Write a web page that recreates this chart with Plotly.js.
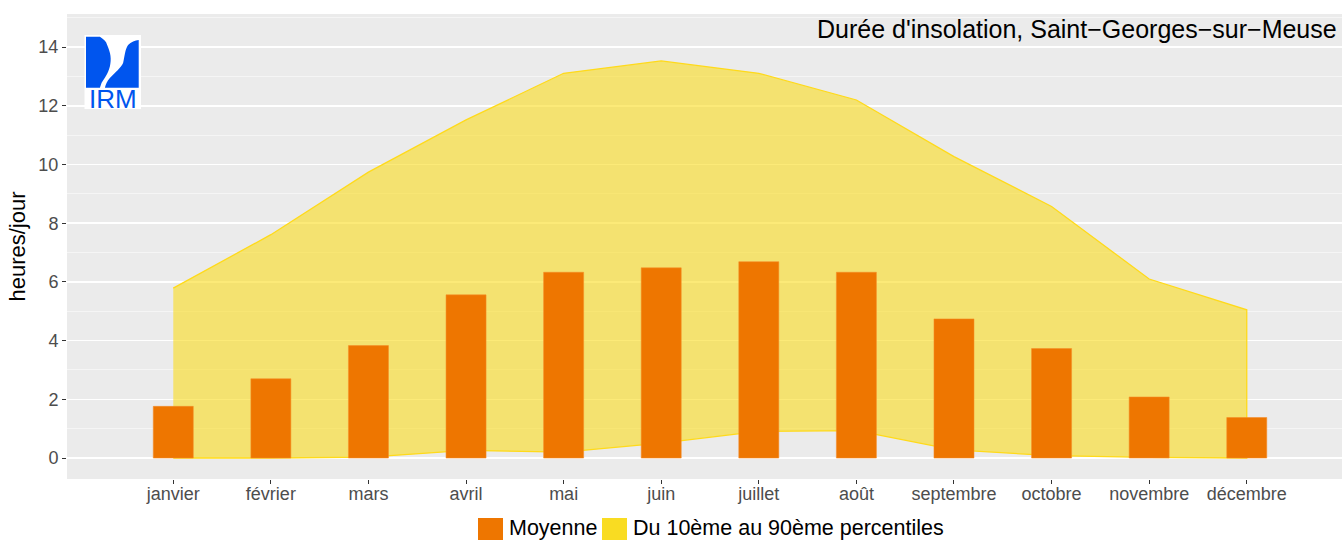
<!DOCTYPE html>
<html>
<head>
<meta charset="utf-8">
<script src="https://cdn.plot.ly/plotly-3.0.1.min.js"></script>
<style>html,body{margin:0;padding:0;background:#fff;}#chart{width:1342px;height:540px;}</style>
</head>
<body>
<div id="chart"></div>
<script>
// ---- data ----
const months = ["janvier","février","mars","avril","mai","juin","juillet","août","septembre","octobre","novembre","décembre"];
const monthIndex = [1,2,3,4,5,6,7,8,9,10,11,12];
const moyenne = [1.76, 2.70, 3.83, 5.56, 6.33, 6.48, 6.69, 6.33, 4.74, 3.73, 2.08, 1.38];
const p90 = [5.79, 7.61, 9.74, 11.52, 13.11, 13.53, 13.11, 12.20, 10.27, 8.57, 6.10, 5.05];
const p10 = [0.0, 0.0, 0.03, 0.26, 0.20, 0.51, 0.91, 0.93, 0.28, 0.08, 0.02, 0.0];
const yTicks = [0, 2, 4, 6, 8, 10, 12, 14];
const titleText = "Durée d'insolation, Saint\u2212Georges\u2212sur\u2212Meuse";
const legendLabels = ["Moyenne", "Du 10ème au 90ème percentiles"];

// ---- layout helpers (pixel -> paper) ----
const W = 1342, H = 540;
const M = {l: 67, r: 0, t: 14, b: 61};
const PW = W - M.l - M.r, PH = H - M.t - M.b;
const px = x => (x - M.l) / PW;
const py = y => (H - M.b - y) / PH;

const orange = "#EE7600";
const bandLine = "#FFDA1A";
const bandFill = "rgba(250,220,30,0.6)";
const font = "'Liberation Sans', Arial, Helvetica, sans-serif";
const xRange = [-0.089, 12.976];

const bandX = monthIndex.concat(monthIndex.slice().reverse());
const bandY = p90.concat(p10.slice().reverse());

const traces = [
  {
    type: "scatter", mode: "lines", x: bandX, y: bandY,
    xaxis: "x", yaxis: "y",
    fill: "toself", fillcolor: bandFill,
    line: {color: bandLine, width: 1.3},
    name: legendLabels[1], showlegend: false, hoverinfo: "skip"
  },
  {
    type: "bar", x: monthIndex, y: moyenne, width: 0.41,
    xaxis: "x2", yaxis: "y",
    marker: {color: orange, line: {color: "rgba(245,140,40,0.9)", width: 0.6}},
    name: legendLabels[0], showlegend: false
  }
];

const logoSvg = '<svg xmlns="http://www.w3.org/2000/svg" width="57" height="75" viewBox="0 0 57 75">' +
  '<rect x="0" y="0" width="57" height="75" fill="#ffffff"/>' +
  '<path d="M1.7 1.7 L15.7 1.7 C19 4 22 6 23 10 C26.5 18 27.5 24 25.7 31.7 C24 39 20 44 17.4 48.3 L15.7 53.3 L1.7 53.3 Z" fill="#0055EE"/>' +
  '<path d="M54.7 5 C51 5.5 47 7 44 10 C41 14 40.5 22 39 28.3 C37 33 31 38 25.7 43.3 C23 46 21.5 50 20.7 53.3 L54.7 53.3 Z" fill="#0055EE"/>' +
  '</svg>';
const logoUri = "data:image/svg+xml;charset=utf-8," + encodeURIComponent(logoSvg);

const layout = {
  width: W, height: H,
  margin: M,
  paper_bgcolor: "#ffffff",
  plot_bgcolor: "#EBEBEB",
  font: {family: font, color: "#000"},
  showlegend: false,
  bargap: 0,
  xaxis: {
    range: xRange,
    tickmode: "array", tickvals: monthIndex, ticktext: months,
    showgrid: false, zeroline: false, showline: false,
    ticks: "outside", ticklen: 4, tickcolor: "#333333", tickwidth: 1,
    ticklabelstandoff: -6,
    tickfont: {family: font, size: 18, color: "#4D4D4D"},
    fixedrange: true
  },
  xaxis2: {
    range: xRange, overlaying: "x", visible: false,
    showgrid: false, zeroline: false, fixedrange: true
  },
  yaxis: {
    range: [-0.715, 15.13],
    tickmode: "array", tickvals: yTicks, ticktext: yTicks.map(String),
    showgrid: true, gridcolor: "#ffffff", gridwidth: 1.5,
    minor: {dtick: 1, tick0: 0, showgrid: true, gridcolor: "#F8F8F8", gridwidth: 0.8, ticks: ""},
    zeroline: false, showline: false,
    ticks: "outside", ticklen: 4, tickcolor: "#333333", tickwidth: 1,
    tickfont: {family: font, size: 18, color: "#4D4D4D"},
    title: {text: "heures/jour", font: {family: font, size: 22, color: "#000"}, standoff: 6},
    fixedrange: true
  },
  images: [{
    source: logoUri, xref: "paper", yref: "paper",
    x: px(84.3), y: py(35), sizex: 56.7 / PW, sizey: 74.3 / PH,
    xanchor: "left", yanchor: "top", sizing: "stretch", layer: "above"
  }],
  shapes: [
    {type: "rect", xref: "paper", yref: "paper", x0: px(478), x1: px(503), y0: py(518), y1: py(541), fillcolor: orange, line: {width: 0}},
    {type: "rect", xref: "paper", yref: "paper", x0: px(602), x1: px(627), y0: py(518), y1: py(541), fillcolor: "#F9DC22", line: {width: 0}}
  ],
  annotations: [
    {text: titleText, xref: "paper", yref: "paper", x: px(1339), y: py(29), xanchor: "right", yanchor: "middle",
     showarrow: false, font: {family: font, size: 25, color: "#000"}},
    {text: "IRM", xref: "paper", yref: "paper", x: px(112.7), y: py(99.5), xanchor: "center", yanchor: "middle",
     showarrow: false, font: {family: font, size: 26, color: "#0055EE"}},
    {text: legendLabels[0], xref: "paper", yref: "paper", x: px(507), y: py(527.5), xanchor: "left", yanchor: "middle",
     showarrow: false, font: {family: font, size: 21.5, color: "#000"}},
    {text: legendLabels[1], xref: "paper", yref: "paper", x: px(631), y: py(527.5), xanchor: "left", yanchor: "middle",
     showarrow: false, font: {family: font, size: 21.5, color: "#000"}}
  ]
};

Plotly.newPlot("chart", traces, layout, {displayModeBar: false, staticPlot: true});
</script>
</body>
</html>
